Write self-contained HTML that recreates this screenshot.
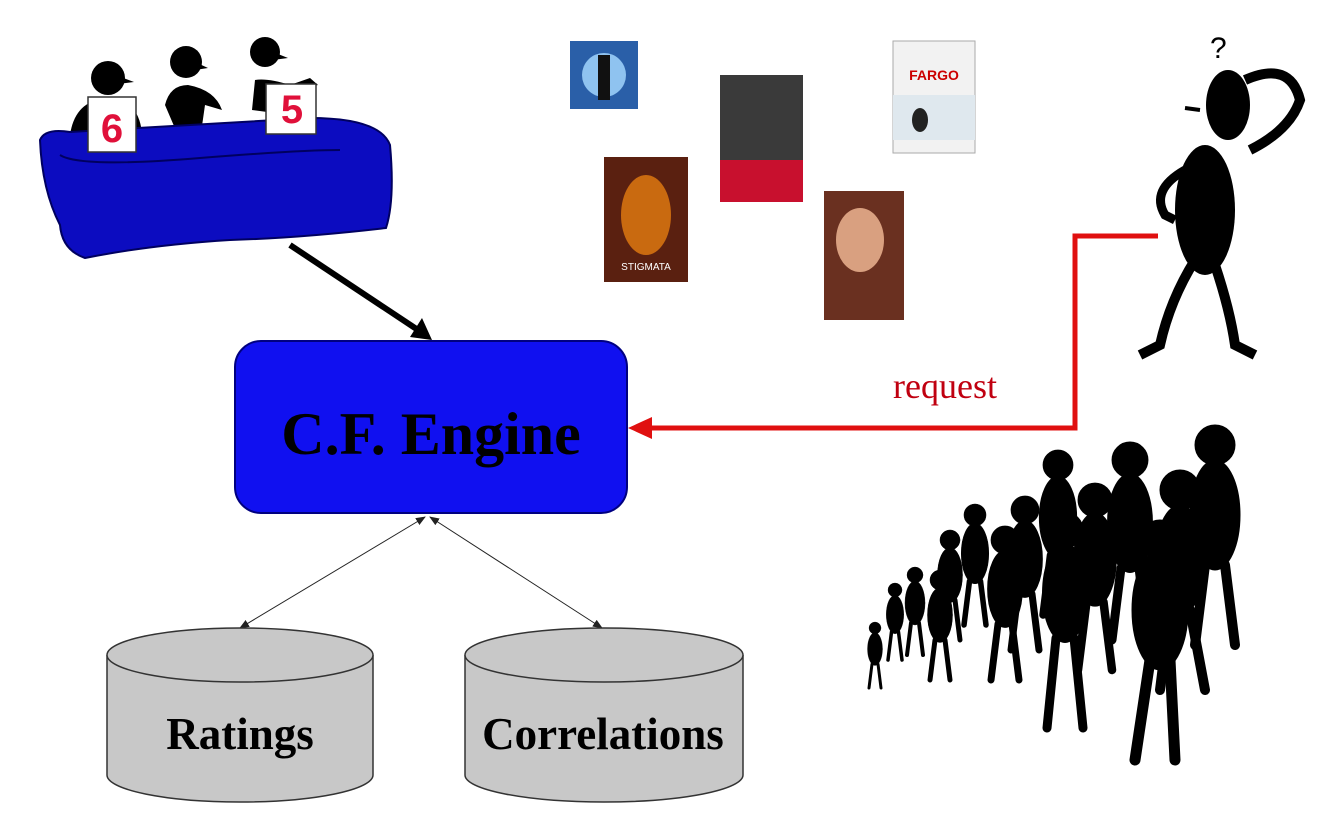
<!DOCTYPE html>
<html><head><meta charset="utf-8"><style>
html,body{margin:0;padding:0;background:#fff;width:1341px;height:813px;overflow:hidden}
svg{display:block}
</style></head><body>
<svg width="1341" height="813" viewBox="0 0 1341 813" xmlns="http://www.w3.org/2000/svg">
<defs>
<marker id="as" markerWidth="10" markerHeight="8" refX="9" refY="4" orient="auto-start-reverse" markerUnits="userSpaceOnUse"><path d="M0,0 L10,4 L0,8 z" fill="#222"/></marker>
</defs>
<!-- judges -->
<g fill="#000">
<circle cx="108" cy="78" r="17"/><path d="M118,76 L134,82 L118,84z"/>
<path d="M70,135 Q75,100 108,98 Q140,100 142,135 z"/>
<circle cx="186" cy="62" r="16"/><path d="M195,62 L208,68 L195,70z"/>
<path d="M165,105 Q170,85 188,85 Q215,90 222,110 L205,105 L200,140 L180,140 Z"/>
<circle cx="265" cy="52" r="15"/><path d="M273,52 L288,58 L273,60z"/>
<path d="M252,110 L255,80 Q268,78 290,85 L310,78 L318,85 L295,90 L290,115 Z"/>
</g>
<path d="M40,140 Q45,128 70,132 L310,118 Q380,118 390,145 Q395,200 386,228 Q300,238 230,240 Q150,245 85,258 Q62,250 60,225 Q42,190 40,140 Z" fill="#0c0cc0" stroke="#000060" stroke-width="2"/>
<path d="M60,155 Q80,168 200,158 Q300,150 340,150" fill="none" stroke="#000060" stroke-width="2"/>
<rect x="88" y="97" width="48" height="55" fill="#fff" stroke="#333" stroke-width="1.5"/>
<text x="112" y="142" font-family="Liberation Sans,sans-serif" font-weight="bold" font-size="40" fill="#e0103a" text-anchor="middle">6</text>
<rect x="266" y="84" width="50" height="50" fill="#fff" stroke="#333" stroke-width="1.5"/>
<text x="292" y="123" font-family="Liberation Sans,sans-serif" font-weight="bold" font-size="40" fill="#e0103a" text-anchor="middle">5</text>
<!-- thick arrow -->
<line x1="290" y1="245" x2="418" y2="330" stroke="#000" stroke-width="6"/>
<path d="M432,340 L410,337 L422,318 z" fill="#000"/>
<!-- posters -->
<rect x="570" y="41" width="68" height="68" fill="#2a5fa8"/><circle cx="604" cy="75" r="22" fill="#8fc3f0"/><rect x="598" y="55" width="12" height="45" fill="#111"/>
<rect x="720" y="75" width="83" height="127" fill="#3a3a3a"/><rect x="720" y="160" width="83" height="42" fill="#c8102e"/>
<rect x="893" y="41" width="82" height="112" fill="#f2f2f2" stroke="#aaa"/><text x="934" y="80" font-family="Liberation Sans,sans-serif" font-weight="bold" font-size="14" fill="#c00" text-anchor="middle">FARGO</text><rect x="893" y="95" width="82" height="45" fill="#dfe8ee"/><ellipse cx="920" cy="120" rx="8" ry="12" fill="#222"/>
<rect x="604" y="157" width="84" height="125" fill="#5a2010"/><ellipse cx="646" cy="215" rx="25" ry="40" fill="#c96a10"/><text x="646" y="270" font-family="Liberation Sans,sans-serif" font-size="10" fill="#fff" text-anchor="middle">STIGMATA</text>
<rect x="824" y="191" width="80" height="129" fill="#6a3020"/><ellipse cx="860" cy="240" rx="24" ry="32" fill="#d9a080"/>
<!-- C.F. Engine -->
<rect x="235" y="341" width="392" height="172" rx="26" fill="#1010f0" stroke="#000080" stroke-width="2"/>
<text x="431" y="454" font-family="Liberation Serif,serif" font-weight="bold" font-size="60" text-anchor="middle" fill="#000">C.F. Engine</text>
<!-- thin arrows -->
<line x1="425" y1="517" x2="240" y2="628" stroke="#222" stroke-width="1" marker-start="url(#as)" marker-end="url(#as)"/>
<line x1="430" y1="517" x2="602" y2="628" stroke="#222" stroke-width="1" marker-start="url(#as)" marker-end="url(#as)"/>
<!-- cylinders -->
<g fill="#c8c8c8" stroke="#333" stroke-width="1.5">
<path d="M107,655 L107,775 A133,27 0 0 0 373,775 L373,655"/>
<ellipse cx="240" cy="655" rx="133" ry="27"/>
<path d="M465,655 L465,775 A139,27 0 0 0 743,775 L743,655"/>
<ellipse cx="604" cy="655" rx="139" ry="27"/>
</g>
<text x="240" y="749" font-family="Liberation Serif,serif" font-weight="bold" font-size="45" text-anchor="middle">Ratings</text>
<text x="603" y="749" font-family="Liberation Serif,serif" font-weight="bold" font-size="45" text-anchor="middle">Correlations</text>
<!-- red line -->
<polyline points="1158,236 1075,236 1075,428 648,428" fill="none" stroke="#e01010" stroke-width="5"/>
<path d="M628,428 L652,417 L652,439 z" fill="#e01010"/>
<text x="893" y="398" font-family="Liberation Serif,serif" font-size="36" fill="#c00010">request</text>
<!-- thinking figure -->
<g fill="#000" stroke="#000">
<ellipse cx="1228" cy="105" rx="22" ry="35" stroke="none"/>
<path d="M1200,110 L1185,108" stroke-width="4"/>
<path d="M1245,80 Q1290,60 1300,100 Q1290,130 1250,150" fill="none" stroke-width="10"/>
<ellipse cx="1205" cy="210" rx="30" ry="65" stroke="none"/>
<path d="M1185,170 Q1150,190 1165,215 L1175,220" fill="none" stroke-width="9"/>
<path d="M1195,260 Q1170,300 1160,345 L1140,355" fill="none" stroke-width="10"/>
<path d="M1215,265 Q1230,310 1235,345 L1255,355" fill="none" stroke-width="10"/>
</g>
<text x="1210" y="58" font-family="Liberation Sans,sans-serif" font-size="30" fill="#000">?</text>
<!-- crowd -->
<g fill="#000" stroke="#000" stroke-linecap="round">
<g transform="translate(1215,445) scale(1)"><circle r="20"/><ellipse cy="70" rx="25" ry="55"/><path d="M-10,120 L-20,200 M10,120 L20,200" stroke-width="10"/></g>
<g transform="translate(1180,490) scale(1)"><circle r="20"/><ellipse cy="70" rx="25" ry="55"/><path d="M-10,120 L-20,200 M10,120 L25,200" stroke-width="10"/></g>
<g transform="translate(1160,540) scale(1)"><circle r="20"/><ellipse cy="70" rx="28" ry="60"/><path d="M-10,120 L-25,220 M10,120 L15,220" stroke-width="11"/></g>
<g transform="translate(1130,460) scale(0.9)"><circle r="20"/><ellipse cy="70" rx="25" ry="55"/><path d="M-10,120 L-20,200 M10,120 L20,200" stroke-width="10"/></g>
<g transform="translate(1095,500) scale(0.85)"><circle r="20"/><ellipse cy="70" rx="25" ry="55"/><path d="M-10,120 L-20,200 M10,120 L20,200" stroke-width="10"/></g>
<g transform="translate(1065,530) scale(0.9)"><circle r="20"/><ellipse cy="70" rx="25" ry="55"/><path d="M-10,120 L-20,220 M10,120 L20,220" stroke-width="10"/></g>
<g transform="translate(1058,465) scale(0.75)"><circle r="20"/><ellipse cy="70" rx="25" ry="55"/><path d="M-10,120 L-20,200 M10,120 L20,200" stroke-width="10"/></g>
<g transform="translate(1025,510) scale(0.7)"><circle r="20"/><ellipse cy="70" rx="25" ry="55"/><path d="M-10,120 L-20,200 M10,120 L20,200" stroke-width="10"/></g>
<g transform="translate(1005,540) scale(0.7)"><circle r="20"/><ellipse cy="70" rx="25" ry="55"/><path d="M-10,120 L-20,200 M10,120 L20,200" stroke-width="10"/></g>
<g transform="translate(975,515) scale(0.55)"><circle r="20"/><ellipse cy="70" rx="25" ry="55"/><path d="M-10,120 L-20,200 M10,120 L20,200" stroke-width="10"/></g>
<g transform="translate(950,540) scale(0.5)"><circle r="20"/><ellipse cy="70" rx="25" ry="55"/><path d="M-10,120 L-20,200 M10,120 L20,200" stroke-width="10"/></g>
<g transform="translate(940,580) scale(0.5)"><circle r="20"/><ellipse cy="70" rx="25" ry="55"/><path d="M-10,120 L-20,200 M10,120 L20,200" stroke-width="10"/></g>
<g transform="translate(915,575) scale(0.4)"><circle r="20"/><ellipse cy="70" rx="25" ry="55"/><path d="M-10,120 L-20,200 M10,120 L20,200" stroke-width="10"/></g>
<g transform="translate(895,590) scale(0.35)"><circle r="20"/><ellipse cy="70" rx="25" ry="55"/><path d="M-10,120 L-20,200 M10,120 L20,200" stroke-width="10"/></g>
<g transform="translate(875,628) scale(0.3)"><circle r="20"/><ellipse cy="70" rx="25" ry="55"/><path d="M-10,120 L-20,200 M10,120 L20,200" stroke-width="10"/></g>
</g>
</svg>
</body></html>
